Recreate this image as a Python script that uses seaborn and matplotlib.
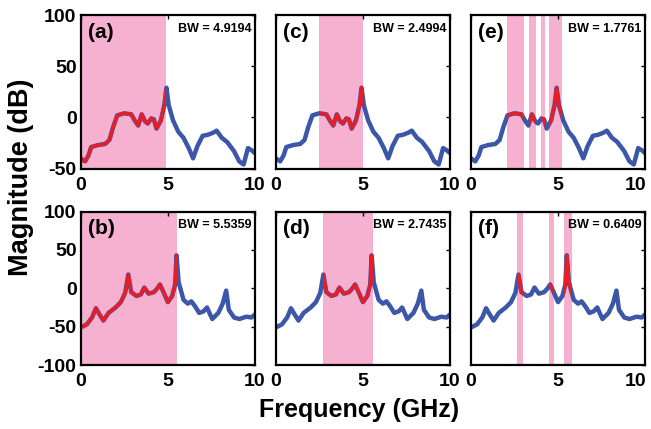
import matplotlib
matplotlib.use("Agg")
import matplotlib.pyplot as plt
import matplotlib.transforms as mtransforms
import seaborn as sns
import pandas as pd

# spectrum of the top row (a, c, e)
freq_top = [0, 0.25, 0.45, 0.6, 1.0, 1.4, 1.65, 1.85, 2.1, 2.5, 2.9, 3.1, 3.3, 3.5, 3.7,
            3.85, 4.05, 4.2, 4.35, 4.6, 4.8, 4.92, 5.05, 5.3, 5.6, 5.9, 6.2, 6.45, 6.7,
            7.0, 7.3, 7.6, 7.8, 8.1, 8.4, 8.8, 9.1, 9.35, 9.6, 9.8, 10]
mag_top = [-40, -43, -37, -29, -27, -26, -22, -10, 2, 4, 3, -3, -8, 3, -4,
           -6, -1, -2, -11, -3, 12, 29, 12, -3, -14, -20, -30, -40, -28,
           -18, -17, -15, -13, -20, -24, -33, -43, -46, -30, -32, -35]

# spectrum of the bottom row (b, d, f)
freq_bot = [0, 0.35, 0.65, 0.87, 1.05, 1.3, 1.6, 2.0, 2.3, 2.55, 2.73, 2.9, 3.2, 3.45,
            3.65, 3.9, 4.2, 4.4, 4.55, 4.75, 5.0, 5.25, 5.42, 5.5, 5.62, 5.9, 6.15,
            6.35, 6.55, 6.8, 7.05, 7.25, 7.55, 7.9, 8.15, 8.35, 8.5, 8.8, 9.1, 9.5, 9.8, 10]
mag_bot = [-51, -47, -38, -26, -33, -42, -32, -25, -18, -6, 18, -5, -10, -8,
           1, -7, -5, 0, 5, -5, -18, -10, 5, 43, 8, -15, -20,
           -17, -23, -32, -30, -25, -40, -32, -20, -3, -28, -38, -40, -37, -38, -34]

panel_labels = ["(a)", "(c)", "(e)", "(b)", "(d)", "(f)"]
bw_values = ["4.9194", "2.4994", "1.7761", "5.5359", "2.7435", "0.6409"]
bands = [
    [(0, 4.92)],
    [(2.45, 5.02)],
    [(2.07, 3.02), (3.35, 3.73), (4.03, 4.26), (4.49, 5.22)],
    [(0, 5.54)],
    [(2.69, 5.6)],
    [(2.66, 2.98), (4.47, 4.74), (5.35, 5.79)],
]

blue = "#3c56a8"
red = "#ec1c24"
pink = "#f5b1cf"

sns.set_style("white")
plt.rcParams["font.family"] = ["Liberation Sans", "DejaVu Sans"]
plt.rcParams["font.weight"] = "bold"
plt.rcParams["axes.unicode_minus"] = False
plt.rcParams["text.color"] = "black"
plt.rcParams["xtick.color"] = "black"
plt.rcParams["ytick.color"] = "black"

df_top = pd.DataFrame({"f": freq_top, "m": mag_top})
df_bot = pd.DataFrame({"f": freq_bot, "m": mag_bot})

fig, axes = plt.subplots(2, 3, figsize=(6.51, 4.29), dpi=100)
fig.subplots_adjust(left=0.124, right=0.991, top=0.965, bottom=0.149,
                    wspace=0.12, hspace=0.28)

for i, ax in enumerate(axes.flat):
    df = df_top if i < 3 else df_bot
    spans = []
    for lo, hi in bands[i]:
        spans.append(ax.axvspan(lo, hi, color=pink, lw=0, zorder=0))
    sns.lineplot(data=df, x="f", y="m", ax=ax, color=blue, linewidth=3.2, zorder=2)
    for sp in spans:
        sns.lineplot(data=df, x="f", y="m", ax=ax, color=red, linewidth=2.4, zorder=3)
        ax.lines[-1].set_clip_path(sp)

    ax.set_xlim(0, 10)
    if i < 3:
        ax.set_ylim(-50, 100)
        ax.set_yticks([-50, 0, 50, 100])
    else:
        ax.set_ylim(-100, 100)
        ax.set_yticks([-100, -50, 0, 50, 100])
    ax.set_xticks([0, 5, 10])
    ax.set_xlabel("")
    ax.set_ylabel("")
    if i % 3 != 0:
        ax.set_yticklabels([])
    ax.tick_params(direction="in", length=3, width=1, top=True, right=True,
                   labelsize=14, color="black", labelcolor="black")
    ax.tick_params(axis="x", pad=6)
    ax.tick_params(axis="y", pad=3)
    for lab in ax.get_xticklabels() + ax.get_yticklabels():
        lab.set_fontweight("bold")
    if i % 3 == 2:
        last = ax.get_xticklabels()[-1]
        last.set_transform(last.get_transform() +
                           mtransforms.ScaledTranslation(-7 / 72, 0, fig.dpi_scale_trans))
    for s in ax.spines.values():
        s.set_linewidth(1.6)
        s.set_color("black")
        s.set_zorder(5)

    ax.text(0.04, 0.95, panel_labels[i], transform=ax.transAxes, fontsize=15,
            fontweight="bold", ha="left", va="top", zorder=6)
    ax.text(0.98, 0.95, "BW = " + bw_values[i], transform=ax.transAxes, fontsize=9,
            fontweight="bold", ha="right", va="top", zorder=6)

fig.text(0.552, 0.044, "Frequency (GHz)", ha="center", va="center", fontsize=18,
         fontweight="bold")
fig.text(0.032, 0.587, "Magnitude (dB)", ha="center", va="center", rotation=90,
         fontsize=19.5, fontweight="bold")

plt.savefig("out.png", dpi=100)
